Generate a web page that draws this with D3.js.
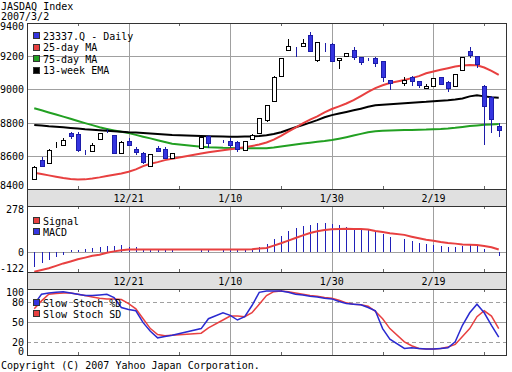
<!DOCTYPE html>
<html>
<head>
<meta charset="utf-8">
<script src="https://cdn.jsdelivr.net/npm/d3@7"></script>
<style>
  body { margin: 0; background: #fff; }
  svg { display: block; font-family: "DejaVu Sans Mono", monospace; font-size: 10px; }
</style>
</head>
<body>
<div id="chart"></div>
<script>
"use strict";

// trading days (JASDAQ, Dec 2006 - Mar 2007)
var dates = ["2006-12-04","2006-12-05","2006-12-06","2006-12-07","2006-12-08","2006-12-11","2006-12-12","2006-12-13","2006-12-14","2006-12-15",
  "2006-12-18","2006-12-19","2006-12-20","2006-12-21","2006-12-22","2006-12-25","2006-12-26","2006-12-27","2006-12-28","2006-12-29",
  "2007-01-04","2007-01-05","2007-01-09","2007-01-10","2007-01-11","2007-01-12","2007-01-15","2007-01-16","2007-01-17","2007-01-18",
  "2007-01-19","2007-01-22","2007-01-23","2007-01-24","2007-01-25","2007-01-26","2007-01-29","2007-01-30","2007-01-31","2007-02-01",
  "2007-02-02","2007-02-05","2007-02-06","2007-02-07","2007-02-08","2007-02-09","2007-02-13","2007-02-14","2007-02-15","2007-02-16",
  "2007-02-19","2007-02-20","2007-02-21","2007-02-22","2007-02-23","2007-02-26","2007-02-27","2007-02-28","2007-03-01","2007-03-02"];
var open  = [8464,8575,8555,8652,8665,8735,8729,8636,8629,8699, 8750,8725,8619,8691,8643,8615,8539,8645,8641,8585,
  8651,8719,8687,8691,8681,8635,8701,8735,8816,8932, 9081,9237,9238,9263,9328,9177,9277,9273,9175,9201,
  9237,9193,9182,9187,9171,9057,9037,9073,9051,9007, 9020,9073,9046,9020,9117,9233,9201,9020,8956,8780];
var high  = [8538,8595,8639,8685,8709,8745,8745,8637,8675,8738, 8760,8727,8687,8705,8655,8625,8612,8659,8651,8617,
  8717,8725,8695,8705,8690,8689,8729,8828,8906,9079, 9189,9302,9253,9301,9344,9285,9279,9281,9189,9219,
  9253,9195,9191,9193,9173,9059,9073,9081,9053,9030, 9069,9075,9048,9095,9195,9253,9203,9026,8960,8795];
var low   = [8458,8534,8552,8650,8662,8699,8625,8605,8620,8697, 8735,8613,8617,8657,8605,8552,8536,8620,8583,8583,
  8649,8645,8675,8645,8620,8633,8695,8733,8806,8928, 9079,9235,9193,9257,9229,9167,9223,9167,9121,9199,
  9175,9147,9171,9137,9046,8996,9021,9021,9007,9001, 9018,9029,8986,9018,9115,9187,9130,8665,8739,8715];
var close = [8534,8539,8635,8652,8695,8715,8635,8635,8665,8735, 8749,8615,8685,8669,8625,8558,8609,8629,8589,8615,
  8715,8679,8684,8665,8639,8687,8723,8826,8904,9077, 9187,9261,9237,9281,9231,9283,9276,9173,9187,9217,
  9193,9161,9181,9157,9073,9037,9057,9046,9027,9020, 9067,9031,9010,9093,9193,9207,9151,8900,8826,8755];

var ma25  = [8498,8490,8482,8474,8466,8460,8457,8458,8463,8470, 8478,8486,8494,8504,8518,8538,8552,8562,8574,8582,
  8614,8622,8633,8639,8645,8651,8659,8668,8680,8697, 8720,8745,8770,8795,8818,8838,8862,8882,8898,8915,
  8935,8960,8985,9008,9025,9038,9057,9068,9080,9097, 9108,9118,9128,9138,9144,9147,9145,9132,9112,9087];
var ma75  = [8886,8874,8861,8849,8836,8823,8810,8797,8785,8772, 8762,8753,8745,8737,8726,8715,8705,8694,8683,8673,
  8655,8652,8648,8647,8646,8645,8645,8645,8646,8650, 8656,8662,8668,8674,8679,8684,8689,8695,8703,8712,
  8722,8732,8742,8748,8751,8753,8755,8756,8757,8758, 8760,8762,8765,8769,8774,8779,8783,8787,8789,8791];
var ema13w = [8786,8782,8778,8775,8772,8768,8764,8760,8757,8754, 8751,8748,8745,8742,8740,8737,8734,8731,8728,8725,
  8719,8718,8716,8715,8715,8716,8717,8719,8724,8731, 8742,8757,8772,8786,8800,8815,8832,8845,8855,8864,
  8874,8884,8895,8904,8908,8911,8916,8919,8922,8925, 8929,8932,8935,8939,8945,8958,8964,8958,8953,8950];

var macd   = [-89,-68,-52,-34,-17,10,14,18,24,30, 38,38,40,32,30,18,14,14,10,10,
  10,14,14,14,10,10,20,30,50,75, 99,124,142,156,164,172,172,167,161,153,
  147,141,141,120,106,90,75,64,54,48, 44,34,27,30,38,44,38,18,2,-27];
var signal = [-120,-110,-99,-85,-70,-58,-45,-35,-24,-17, -5,3,10,14,15,15,15,15,14,14,
  14,14,14,14,14,14,16,20,24,38, 52,68,84,100,114,125,132,137,139,140,
  139,138,136,126,120,113,103,92,82,73, 68,60,54,50,45,43,41,36,28,14];

var stochD  = [77,92,94,95,96,94,92,90,90,91, 92,87,72,69,67,49,36,26,28,30,
  40,55,64,60,53,58,75,95,97,97, 97,95,92,91,89,88,86,85,81,78,
  77,76,72,67,40,24,10,11,10,9, 9,10,11,20,45,64,77,64,45,27];
var stochSD = [70,82,92,93,94,94,92,90,88,86, 85,85,84,78,70,55,40,31,29,30,
  33,41,53,59,59,58,64,77,90,96, 97,96,94,92,90,89,87,86,83,79,
  77,76,74,66,55,40,20,14,10,9, 9,10,12,16,28,40,58,67,59,40];

var tickDates = ["2006-12-21","2007-01-10","2007-01-30","2007-02-19"];
var tickLabels = ["12/21","1/10","1/30","2/19"];
var minorDates = ["2006-12-12","2007-01-01","2007-01-19","2007-02-08","2007-02-28"];

var priceTicks = [8400,8600,8800,9000,9200,9400];
var macdTicks = [-122,0,278];
var stochTicks = [0,20,50,80,100];

// weekday index from first trading day
var day0 = new Date("2006-12-04T00:00:00Z");
function wk(s) {
    var d = new Date(s + "T00:00:00Z"), n = 0;
    for (var t = new Date(day0); t < d; t.setUTCDate(t.getUTCDate() + 1)) {
        var w = t.getUTCDay();
        if (w !== 0 && w !== 6) n++;
    }
    return n;
}

var W = 512, H = 372;
var left = 27, right = 506;
var panels = {
    main:  { top: 23,  bottom: 189 },
    macd:  { top: 206, bottom: 272 },
    stoch: { top: 289, bottom: 355 }
};
var bands = [{ top: 189, bottom: 206 }, { top: 272, bottom: 289 }];

var blue = "#3535e0", blueDark = "#1c1ca8", red = "#e84040", green = "#22a022";

var x = d3.scaleLinear().domain([-1, 65]).range([left, right]);
var yP = d3.scaleLinear().domain([8400, 9400]).range([panels.main.bottom, panels.main.top]);
var yM = d3.scaleLinear().domain([-122, 278]).range([panels.macd.bottom, panels.macd.top]);
var yS = d3.scaleLinear().domain([0, 100]).range([panels.stoch.bottom, panels.stoch.top]);

var rows = dates.map(function (d, i) {
    return { i: wk(d), o: open[i], h: high[i], l: low[i], c: close[i],
        ma25: ma25[i], ma75: ma75[i], ema: ema13w[i], macd: macd[i], sig: signal[i],
        sd: stochD[i], ssd: stochSD[i] };
});

var svg = d3.select("#chart").append("svg")
    .attr("width", W)
    .attr("height", H);

svg.append("rect").attr("width", W).attr("height", H).attr("fill", "#fff");

// title
svg.append("text").attr("x", 1).attr("y", 10).text("JASDAQ Index");
svg.append("text").attr("x", 1).attr("y", 20).text("2007/3/2");

// clip paths per panel
Object.keys(panels).forEach(function (k) {
    var p = panels[k];
    svg.append("clipPath").attr("id", "clip-" + k)
        .append("rect")
        .attr("x", left).attr("y", p.top)
        .attr("width", right - left).attr("height", p.bottom - p.top);
});

var grid = svg.append("g").style("shape-rendering", "crispEdges");

// vertical grid lines in every panel
Object.keys(panels).forEach(function (k) {
    var p = panels[k];
    grid.selectAll(null).data(tickDates).enter().append("line")
        .attr("x1", function (d) { return Math.round(x(wk(d))) + 0.5; })
        .attr("x2", function (d) { return Math.round(x(wk(d))) + 0.5; })
        .attr("y1", p.top).attr("y2", p.bottom)
        .attr("stroke", "#a0a0a0");
    // minor ticks on top and bottom edges
    grid.selectAll(null).data(minorDates).enter().append("path")
        .attr("d", function (d) {
            var xx = Math.round(x(wk(d))) + 0.5;
            return "M" + xx + "," + p.top + "v3M" + xx + "," + p.bottom + "v-3";
        })
        .attr("stroke", "#666");
});

// horizontal grid: price
grid.selectAll(null).data(priceTicks.slice(1, -1)).enter().append("line")
    .attr("x1", left).attr("x2", right)
    .attr("y1", function (d) { return Math.round(yP(d)) + 0.5; })
    .attr("y2", function (d) { return Math.round(yP(d)) + 0.5; })
    .attr("stroke", "#a0a0a0");

// macd zero line
grid.append("line")
    .attr("x1", left).attr("x2", right)
    .attr("y1", Math.round(yM(0)) + 0.5).attr("y2", Math.round(yM(0)) + 0.5)
    .attr("stroke", "#a0a0a0");

// stoch levels
grid.selectAll(null).data([20, 50, 80]).enter().append("line")
    .attr("x1", left).attr("x2", right)
    .attr("y1", function (d) { return Math.round(yS(d)) + 0.5; })
    .attr("y2", function (d) { return Math.round(yS(d)) + 0.5; })
    .attr("stroke", "#a0a0a0")
    .attr("stroke-dasharray", function (d) { return d === 50 ? null : "4,3"; });

// date bands
bands.forEach(function (b) {
    grid.append("rect")
        .attr("x", left + 0.5).attr("y", b.top + 0.5)
        .attr("width", right - left).attr("height", b.bottom - b.top)
        .attr("fill", "#e0e0e0").attr("stroke", "#333");
    svg.selectAll(null).data(tickDates).enter().append("text")
        .attr("x", function (d) { return x(wk(d)); })
        .attr("y", (b.top + b.bottom) / 2 + 4)
        .attr("text-anchor", "middle")
        .text(function (d, i) { return tickLabels[i]; });
});

// panel frames
Object.keys(panels).forEach(function (k) {
    var p = panels[k];
    grid.append("rect")
        .attr("x", left + 0.5).attr("y", p.top + 0.5)
        .attr("width", right - left).attr("height", p.bottom - p.top)
        .attr("fill", "none").attr("stroke", "#333");
});

// y labels
function yLabels(ticks, scale, p) {
    svg.selectAll(null).data(ticks).enter().append("text")
        .attr("x", 24)
        .attr("y", function (d) {
            var yy = scale(d) + 4;
            return Math.min(Math.max(yy, p.top + 7), p.bottom);
        })
        .attr("text-anchor", "end")
        .text(function (d) { return d; });
}
yLabels(priceTicks, yP, panels.main);
yLabels(macdTicks, yM, panels.macd);
yLabels(stochTicks, yS, panels.stoch);

// ---- main panel
var main = svg.append("g").attr("clip-path", "url(#clip-main)");

function lineOf(key, scale) {
    return d3.line()
        .x(function (d) { return x(d.i); })
        .y(function (d) { return scale(d[key]); });
}

main.append("path").datum(rows).attr("d", lineOf("ma75", yP))
    .attr("fill", "none").attr("stroke", green).attr("stroke-width", 2);
main.append("path").datum(rows).attr("d", lineOf("ema", yP))
    .attr("fill", "none").attr("stroke", "#000").attr("stroke-width", 2);
main.append("path").datum(rows).attr("d", lineOf("ma25", yP))
    .attr("fill", "none").attr("stroke", red).attr("stroke-width", 2);

var candles = main.append("g").style("shape-rendering", "crispEdges");
var cg = candles.selectAll("g").data(rows).enter().append("g");
cg.append("line")
    .attr("x1", function (d) { return Math.round(x(d.i)) + 0.5; })
    .attr("x2", function (d) { return Math.round(x(d.i)) + 0.5; })
    .attr("y1", function (d) { return yP(d.h); })
    .attr("y2", function (d) { return yP(d.l); })
    .attr("stroke", function (d) { return d.c < d.o ? blueDark : "#000"; });
cg.append("rect")
    .attr("x", function (d) { return Math.round(x(d.i)) - 1.5; })
    .attr("width", 4)
    .attr("y", function (d) { return Math.round(yP(Math.max(d.o, d.c))) + 0.5; })
    .attr("height", function (d) { return Math.max(0, Math.round(Math.abs(yP(d.o) - yP(d.c)))); })
    .attr("fill", function (d) { return d.c < d.o ? blue : "#fff"; })
    .attr("stroke", function (d) { return d.c < d.o ? blueDark : "#000"; });

// legend helper
function legend(items, x0, y0, step) {
    var g = svg.append("g");
    items.forEach(function (it, k) {
        var cy = y0 + k * step;
        g.append("rect").attr("x", x0 + 0.5).attr("y", cy - 3.5)
            .attr("width", 6).attr("height", 6)
            .attr("fill", it.color).attr("stroke", "#333")
            .style("shape-rendering", "crispEdges");
        g.append("text").attr("x", x0 + 10).attr("y", cy + 3.5).text(it.name);
    });
}
legend([
    { name: "23337.Q - Daily", color: blue },
    { name: "25-day MA", color: red },
    { name: "75-day MA", color: green },
    { name: "13-week EMA", color: "#000" }
], 33, 36, 11.5);

// ---- macd panel
var mg = svg.append("g").attr("clip-path", "url(#clip-macd)");
mg.selectAll(null).data(rows).enter().append("line")
    .attr("x1", function (d) { return Math.round(x(d.i)) + 0.5; })
    .attr("x2", function (d) { return Math.round(x(d.i)) + 0.5; })
    .attr("y1", yM(0))
    .attr("y2", function (d) { return yM(d.macd); })
    .attr("stroke", "#2020b8")
    .style("shape-rendering", "crispEdges");
mg.append("path").datum(rows).attr("d", lineOf("sig", yM))
    .attr("fill", "none").attr("stroke", red).attr("stroke-width", 2);

legend([
    { name: "Signal", color: red },
    { name: "MACD", color: blue }
], 33, 221, 11);

// ---- stochastics panel
var sg = svg.append("g").attr("clip-path", "url(#clip-stoch)");
sg.append("path").datum(rows).attr("d", lineOf("ssd", yS))
    .attr("fill", "none").attr("stroke", red).attr("stroke-width", 1.5);
sg.append("path").datum(rows).attr("d", lineOf("sd", yS))
    .attr("fill", "none").attr("stroke", "#2a2ad0").attr("stroke-width", 1.5);

legend([
    { name: "Slow Stoch %D", color: blue },
    { name: "Slow Stoch SD", color: red }
], 33, 303, 11);

svg.append("text").attr("x", 1).attr("y", 369)
    .text("Copyright (C) 2007 Yahoo Japan Corporation.");
</script>
</body>
</html>
